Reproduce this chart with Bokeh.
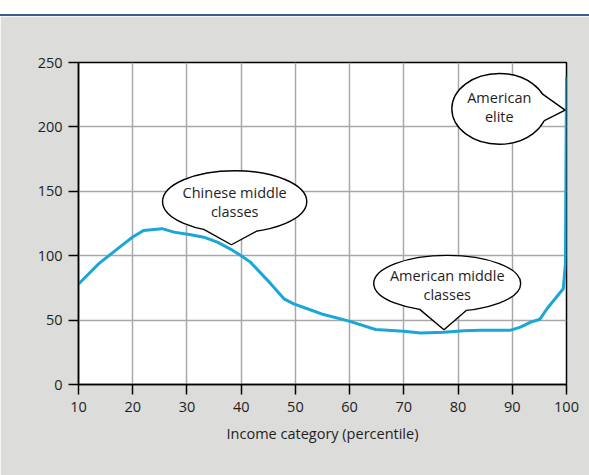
import numpy as np
from bokeh.plotting import figure
from bokeh.models import Div, FixedTicker, ColumnDataSource
from bokeh.layouts import column
from bokeh.core.properties import value
from bokeh.embed import file_html
from bokeh.resources import INLINE

# Real income growth 1988-2008 by global income percentile
percentile = [10, 13.8, 18, 20, 22, 25.4, 27.6, 30.7, 33.1, 35.6, 38.3, 40, 41.7,
              45.4, 47.9, 49.7, 52.2, 55.2, 59.9, 64.8, 70, 73.1, 77.4, 81.1,
              84.1, 89.7, 91.5, 93.4, 95.1, 96.4, 99.4, 99.8, 100]
growth = [78, 94, 108, 114.5, 119.6, 121, 118.3, 116.2, 114.4, 110.5, 104.5, 100,
          95, 78.5, 66.5, 62.6, 58.8, 54.3, 49.2, 42.7, 41.4, 40, 40.6, 41.7,
          42.2, 42.2, 44.5, 48.4, 50.7, 58.8, 74.3, 93.7, 239]

x_ticks = [10, 20, 30, 40, 50, 60, 70, 80, 90, 100]
y_ticks = [0, 50, 100, 150, 200, 250]

# Speech-bubble callouts: centre, size (data units), pointer tip, base angles (deg)
callout_lines = [["Chinese middle", "classes"],
                 ["American middle", "classes"],
                 ["American", "elite"]]
callout_cx = [38.8, 78.0, 87.6]
callout_cy = [142.0, 78.5, 214.0]
callout_w = [26.6, 27.1, 17.5]
callout_h = [48.0, 43.5, 55.0]
callout_tip_x = [38.2, 77.4, 99.75]
callout_tip_y = [108.5, 42.5, 213.0]
callout_base_a = [(-115, -72), (-112, -75), (25, -20)]
callout_text_dy = [(-9, 10), (-8, 11), (-11, 8)]

FONT = "Open Sans"
GRAY_BG = "#dcdcda"
LINE_BLUE = "#1aa7d8"
TEXT = "#1e1e1e"

p = figure(width=589, height=459, x_range=(10, 100), y_range=(0, 250),
           output_backend="svg", toolbar_location=None,
           min_border_left=78, min_border_right=23,
           min_border_top=46, min_border_bottom=91, margin=0)
p.border_fill_color = GRAY_BG
p.background_fill_color = "white"
p.outline_line_color = "black"
p.outline_line_width = 1.5

for ax in (p.xaxis[0], p.yaxis[0]):
    ax.axis_line_color = "black"
    ax.axis_line_width = 1.5
    ax.major_tick_line_color = "black"
    ax.major_tick_line_width = 1.5
    ax.major_tick_out = 10
    ax.major_tick_in = 0
    ax.minor_tick_line_color = None
    ax.major_label_text_font = FONT
    ax.major_label_text_font_size = "14.5px"
    ax.major_label_text_color = TEXT

p.xaxis.ticker = FixedTicker(ticks=x_ticks)
p.yaxis.ticker = FixedTicker(ticks=y_ticks)
p.xaxis.major_label_standoff = 7
p.yaxis.major_label_standoff = 6
p.xaxis.axis_label = "Income category (percentile)"
p.xaxis.axis_label_text_font = FONT
p.xaxis.axis_label_text_font_size = "14.5px"
p.xaxis.axis_label_text_font_style = "normal"
p.xaxis.axis_label_text_color = TEXT
p.xaxis.axis_label_standoff = 9

for g in (p.xgrid[0], p.ygrid[0]):
    g.grid_line_color = "#a8a8a8"
    g.grid_line_width = 1.5

p.line(percentile, growth, line_color=LINE_BLUE, line_width=3)

# Speech bubbles
for lines, cx, cy, w, h, tx, ty, (a1, a2), dy in zip(
        callout_lines, callout_cx, callout_cy, callout_w, callout_h,
        callout_tip_x, callout_tip_y, callout_base_a, callout_text_dy):
    p.ellipse(x=cx, y=cy, width=w, height=h, fill_color="white",
              line_color="black", line_width=1.4)
    t1, t2 = np.radians(a1), np.radians(a2)
    bx1, by1 = cx + w / 2 * np.cos(t1), cy + h / 2 * np.sin(t1)
    bx2, by2 = cx + w / 2 * np.cos(t2), cy + h / 2 * np.sin(t2)
    p.patch([bx1, tx, bx2, cx], [by1, ty, by2, cy], fill_color="white",
            line_color=None)
    p.line([bx1, tx, bx2], [by1, ty, by2], line_color="black", line_width=1.4)
    src = ColumnDataSource(dict(x=[cx, cx], y=[cy, cy], t=lines, dy=list(dy)))
    p.text(x="x", y="y", text="t", y_offset="dy", source=src,
           text_font=value(FONT), text_font_size="14.5px", text_color=TEXT,
           text_align="center", text_baseline="middle")

# white header strip with a blue rule beneath it
header = Div(width=589, height=16, margin=0,
             styles={"background-color": "white",
                     "border-bottom": "2px solid #3b5c8f",
                     "box-sizing": "border-box"})

layout = column(header, p, spacing=0, margin=0)
open("out.html", "w").write(file_html(layout, INLINE))
